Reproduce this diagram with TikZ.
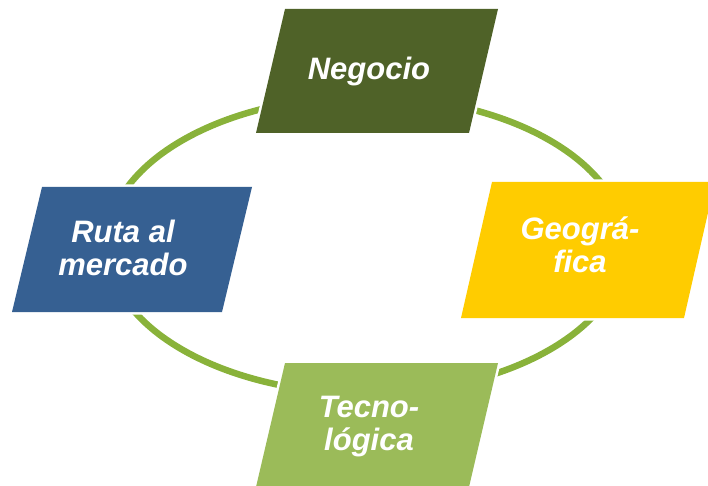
\documentclass[tikz,border=0pt]{standalone}
\usepackage{fontspec}
\setmainfont{Liberation Sans}
\usetikzlibrary{positioning}
\definecolor{ringgreen}{HTML}{89B23A}
\definecolor{negcol}{HTML}{4F6228}
\definecolor{rutacol}{HTML}{366092}
\definecolor{geocol}{HTML}{FFCC00}
\definecolor{teccol}{HTML}{9BBB59}
\tikzset{
  ring/.style  = {draw=ringgreen, line width=6.5pt},
  panel/.style = {preaction={draw=white, line width=5pt, line join=round}},
  word/.style  = {text=white, font=\fontsize{31}{33}\selectfont\bfseries\itshape,
                  align=center, inner sep=0pt},
}
\begin{document}
\begin{tikzpicture}[x=1pt, y=-1pt]
  \useasboundingbox (0,0) rectangle (708,486);

  % green ring behind the panels
  \draw[ring] (366,245) ellipse [x radius=259, y radius=148.5];

  % panels: bottom-left x / top y / width / height / slant / colour
  \foreach \bx/\ty/\w/\h/\s/\c in {%
      256/9/213/124/29/negcol,
      12/187/210/125/30/rutacol,
      461/182/223/136/31/geocol,
      256/363/213/124/29/teccol} {
     \fill[panel, fill=\c] (\bx,\ty+\h) -- ++(\w,0) -- ++(\s,-\h) -- ++(-\w,0) -- cycle;
  }

  % labels
  \node[word, anchor=base] (negocio) at (369,80) {Negocio};
  \node[word] (ruta) at (123,248) {Ruta al\\mercado};
  \node[word] (geo) at (580,245) {Geográ-\\fica};
  \node[word] (tecno) at (369,427) {Tecno-\\lógica};
\end{tikzpicture}
\end{document}
